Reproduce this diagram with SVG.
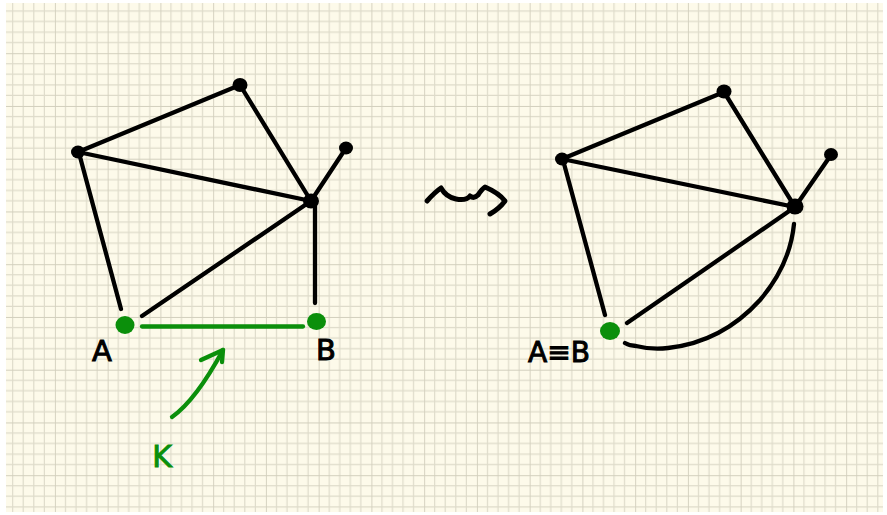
<svg xmlns="http://www.w3.org/2000/svg" width="887" height="515" viewBox="0 0 887 515">
<style>
.e{stroke:#000;stroke-width:4.3;stroke-linecap:round;stroke-linejoin:round;fill:none}
.g{stroke:#0b8f0b;stroke-width:4.3;stroke-linecap:round;stroke-linejoin:round;fill:none}
.n{fill:#000}
.gn{fill:#0b8f0b}
.t{font-family:"DejaVu Sans","Liberation Sans",sans-serif;font-size:29px;fill:#000;stroke:#000;stroke-width:1}
.tg{font-family:"DejaVu Sans","Liberation Sans",sans-serif;font-size:30px;fill:#0b8f0b;stroke:#0b8f0b;stroke-width:1}
</style>
<defs>
<pattern id="grid" patternUnits="userSpaceOnUse" x="2.15" y="0.45" width="52.75" height="52.75">
<g stroke="#dedbca" stroke-width="1.2">
<line x1="10.55" y1="0" x2="10.55" y2="52.75"/><line x1="21.1" y1="0" x2="21.1" y2="52.75"/><line x1="31.65" y1="0" x2="31.65" y2="52.75"/><line x1="42.2" y1="0" x2="42.2" y2="52.75"/>
<line y1="10.55" x1="0" y2="10.55" x2="52.75"/><line y1="21.1" x1="0" y2="21.1" x2="52.75"/><line y1="31.65" x1="0" y2="31.65" x2="52.75"/><line y1="42.2" x1="0" y2="42.2" x2="52.75"/>
</g>
<g stroke="#d2cfbd" stroke-width="1.8">
<line x1="0" y1="0" x2="0" y2="52.75"/><line x1="0" y1="0" x2="52.75" y2="0"/>
</g>
</pattern>
</defs>
<rect width="887" height="515" fill="#ffffff"/>
<rect x="6" y="3" width="877" height="509" fill="#fdfaea"/>
<rect x="6" y="3" width="877" height="509" fill="url(#grid)"/>

<g id="connectors">
<!-- left graph -->
<line class="e" x1="78" y1="152" x2="240" y2="85"/>
<line class="e" x1="240" y1="85" x2="311" y2="201"/>
<line class="e" x1="78" y1="152" x2="311" y2="201"/>
<line class="e" x1="311" y1="201" x2="346" y2="148"/>
<line class="e" x1="79" y1="153" x2="121" y2="309"/>
<line class="e" x1="311" y1="201" x2="142" y2="316"/>
<line class="e" x1="315" y1="203" x2="315" y2="303"/>
<line class="g" x1="142" y1="326.5" x2="303" y2="326.5"/>
<path class="g" d="M172 417 Q196 400 223 350"/>
<path class="g" d="M201 360 L223 350 L222 362"/>
<!-- leadsto squiggle -->
<path class="e" style="stroke-width:5" d="M427 201 Q435 192 441 188 Q446 197 456 199 Q466 201 470 196 Q474 199 478 195 Q482 189 485 187 Q499 193 505 201 Q499 209 490 214"/>
<!-- right graph -->
<line class="e" x1="562" y1="159" x2="724" y2="92"/>
<line class="e" x1="724" y1="92" x2="795" y2="207"/>
<line class="e" x1="562" y1="159" x2="795" y2="207"/>
<line class="e" x1="795" y1="207" x2="831" y2="155"/>
<line class="e" x1="563" y1="160" x2="605" y2="315"/>
<line class="e" x1="795" y1="207" x2="627" y2="323"/>
<path class="e" d="M625 343 Q630 346 636 346 Q652 350 668 348 Q722 342 760 300 Q790 265 794 224"/>
</g>

<g id="node-L1"><ellipse class="n" cx="240" cy="85" rx="7.5" ry="7"/></g>
<g id="node-L2"><ellipse class="n" cx="78" cy="152" rx="7" ry="6.5"/></g>
<g id="node-L3"><ellipse class="n" cx="311" cy="201" rx="8" ry="7.5"/></g>
<g id="node-L4"><ellipse class="n" cx="346" cy="148" rx="7" ry="6.5"/></g>
<g id="node-A"><ellipse class="gn" cx="125" cy="325" rx="9.5" ry="9"/><text class="t" x="102" y="361" text-anchor="middle">A</text></g>
<g id="node-B"><ellipse class="gn" cx="316.5" cy="321.5" rx="9.5" ry="8.5"/><text class="t" x="326" y="360" text-anchor="middle">B</text></g>
<g id="label-K"><text class="tg" x="162" y="467" text-anchor="middle">K</text></g>

<g id="node-R1"><ellipse class="n" cx="724" cy="91.5" rx="7.5" ry="7"/></g>
<g id="node-R2"><ellipse class="n" cx="562" cy="159" rx="7" ry="6.5"/></g>
<g id="node-R3"><ellipse class="n" cx="795" cy="206.5" rx="8.5" ry="8"/></g>
<g id="node-R4"><ellipse class="n" cx="831" cy="154.5" rx="7" ry="6.5"/></g>
<g id="node-AB"><ellipse class="gn" cx="610" cy="331" rx="10" ry="9"/><text class="t" x="559" y="362" text-anchor="middle" textLength="62" lengthAdjust="spacingAndGlyphs">A≡B</text></g>
</svg>
